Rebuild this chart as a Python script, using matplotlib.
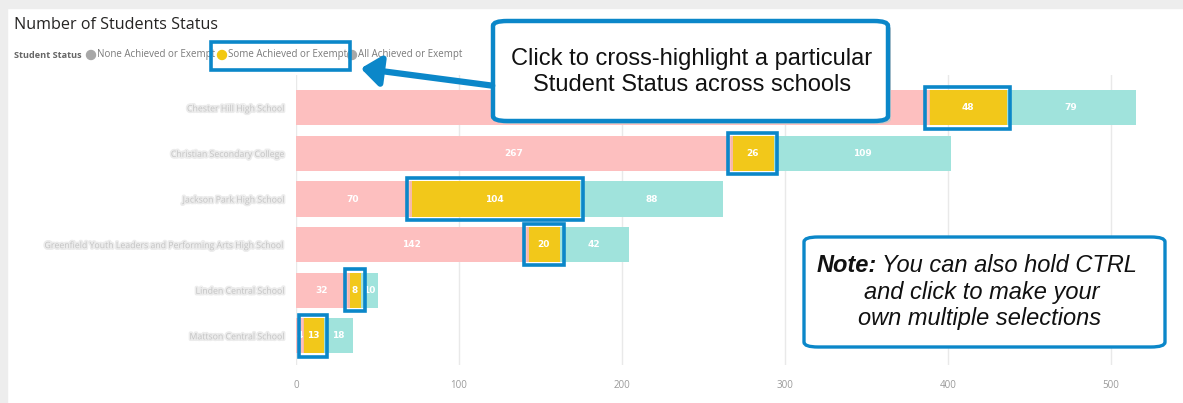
"""Number of Students Status — stacked horizontal bars with highlight callouts."""
import matplotlib
matplotlib.use("Agg")
import matplotlib.pyplot as plt
import matplotlib.patheffects as pe
from matplotlib.patches import Rectangle, FancyBboxPatch, FancyArrowPatch, Ellipse

# school names are blurred in the reference; these are stand-ins of similar length
SCHOOLS = [
    "Chester Hill High School",
    "Christian Secondary College",
    "Jackson Park High School",
    "Greenfield Youth Leaders and Performing Arts High School",
    "Linden Central School",
    "Mattson Central School",
]
NONE_ACH = [388, 267, 70, 142, 32, 4]
SOME_ACH = [48, 26, 104, 20, 8, 13]
ALL_ACH = [79, 109, 88, 42, 10, 18]
XTICKS = [0, 100, 200, 300, 400, 500]
STATUS = ["None Achieved or Exempt", "Some Achieved or Exempt", "All Achieved or Exempt"]

PINK = "#fdbfbf"
YELLOW = "#f2c81a"
TEAL = "#a0e3dc"
BLUE = "#0b87c9"

W, H = 1183, 403


def px(x, y):
    """pixel (from top-left) -> figure fraction"""
    return x / W, 1 - y / H


def main() -> None:
    fig = plt.figure(figsize=(W / 100, H / 100), dpi=100)
    fig.patch.set_facecolor("white")

    # panel frame shadow (top + left bands)
    fig.patches.append(Rectangle((0, 1 - 8 / H), 1, 8 / H, transform=fig.transFigure,
                                 color="#ededed", zorder=0))
    fig.patches.append(Rectangle((0, 0), 7 / W, 1, transform=fig.transFigure,
                                 color="#ededed", zorder=0))

    ax = fig.add_axes([296 / W, 1 - 365 / H, 864 / W, 290 / H])
    ys = list(range(len(SCHOOLS)))
    h = 0.77
    left2 = list(NONE_ACH)
    left3 = [a + b for a, b in zip(NONE_ACH, SOME_ACH)]
    ax.barh(ys, NONE_ACH, height=h, color=PINK, zorder=2)
    ax.barh(ys, SOME_ACH, left=left2, height=h, color=YELLOW, zorder=2)
    ax.barh(ys, ALL_ACH, left=left3, height=h, color=TEAL, zorder=2)
    # thin pink sliver at the left of each highlighted bar
    ax.barh(ys, [1.2] * len(ys), left=left2, height=h, color="#f7b9a8", zorder=3)

    lab = dict(color="white", fontsize=6.5, fontweight="bold", ha="center", va="center",
               zorder=5)
    for y, a, b, c in zip(ys, NONE_ACH, SOME_ACH, ALL_ACH):
        ax.text(a / 2, y, str(a), **lab)
        ax.text(a + b / 2, y, str(b), **lab)
        ax.text(a + b + c / 2, y, str(c), **lab)
        # blue selection frame around the "Some" segment
        ax.add_patch(Rectangle((a - 2.2, y - h / 2 - 0.07), b + 4.4, h + 0.14, fill=False,
                               edgecolor=BLUE, lw=2.6, zorder=6))

    ax.set_xlim(0, 530)
    ax.set_ylim(5.64, -0.72)
    ax.set_xticks(XTICKS)
    ax.set_xticklabels([str(t) for t in XTICKS], fontsize=7, color="#9a9a9a",
                       family="Open Sans")
    ax.tick_params(axis="x", length=0, pad=11)
    ax.set_yticks(ys)
    ax.set_yticklabels(SCHOOLS, fontsize=6.3, color="#c4c4c4", family="Open Sans",
                       path_effects=[pe.withStroke(linewidth=2.5, foreground="#ececec")])
    ax.tick_params(axis="y", length=0, pad=8)
    ax.grid(axis="x", color="#e9e9e9", lw=1, zorder=0)
    for s in ax.spines.values():
        s.set_visible(False)

    # title + legend row
    fig.text(*px(14, 25), "Number of Students Status", fontsize=11.6, color="#252423",
             family="Open Sans", va="center")
    fig.text(*px(14, 55), "Student Status", fontsize=6.6, color="#666666",
             family="Open Sans", fontweight="bold", va="center")
    leg_x = [91, 222, 352]
    leg_c = ["#a8a8a8", "#f2c811", "#a8a8a8"]
    for x, c, name in zip(leg_x, leg_c, STATUS):
        fig.patches.append(Ellipse(px(x, 55), 9 / W, 9 / H, transform=fig.transFigure,
                                   color=c, zorder=3))
        fig.text(*px(x + 6, 55), name, fontsize=7, color="#7a7a7a", family="Open Sans",
                 va="center", zorder=2)
    # blue frame around selected legend item
    x0, y0 = px(211, 70)
    fig.patches.append(Rectangle((x0, y0), 139 / W, 28 / H, transform=fig.transFigure,
                                 fill=False, edgecolor=BLUE, lw=2.6, zorder=4))

    # callout 1
    for dx, col, ec in [(3, "#c8c8c8", "none"), (0, "white", BLUE)]:
        bx, by = px(493 + dx, 121 + dx)
        fig.patches.append(FancyBboxPatch((bx, by), 395 / W, 100 / H,
                                          boxstyle="round,pad=0,rounding_size=0.012",
                                          transform=fig.transFigure, facecolor=col,
                                          edgecolor=ec, lw=3.2, zorder=7 - (dx > 0)))
    fig.text(*px(692, 72), "Click to cross-highlight a particular\nStudent Status across schools",
             fontsize=17, family="Liberation Sans", ha="center", va="center",
             linespacing=1.22, color="#111111", zorder=9)
    fig.patches.append(FancyArrowPatch(px(495, 86), px(358, 68), transform=fig.transFigure,
                                       arrowstyle="-|>,head_length=4.5,head_width=3.5",
                                       mutation_scale=2.6, color=BLUE, lw=4.5, zorder=8))

    # callout 2 (note)
    bx, by = px(804, 347)
    fig.patches.append(FancyBboxPatch((bx, by), 361 / W, 110 / H,
                                      boxstyle="round,pad=0,rounding_size=0.012",
                                      transform=fig.transFigure, facecolor="white",
                                      edgecolor=BLUE, lw=2.4, zorder=7))
    nx, ny = px(817, 265)
    t1 = fig.text(nx, ny, "Note:", fontsize=17, family="Liberation Sans", style="italic",
                  fontweight="bold", va="center", color="#111111", zorder=9)
    fig.canvas.draw()
    bb = t1.get_window_extent()
    fig.text(bb.x1 / W + 5 / W, ny, "You can also hold CTRL", fontsize=17,
             family="Liberation Sans", style="italic", va="center", color="#111111", zorder=9)
    fig.text(*px(982, 292), "and click to make your", fontsize=17, family="Liberation Sans",
             style="italic", ha="center", va="center", color="#111111", zorder=9)
    fig.text(*px(980, 319), "own multiple selections", fontsize=17, family="Liberation Sans",
             style="italic", ha="center", va="center", color="#111111", zorder=9)

    fig.savefig("out.png", dpi=100)
    plt.close(fig)


if __name__ == "__main__":
    main()
